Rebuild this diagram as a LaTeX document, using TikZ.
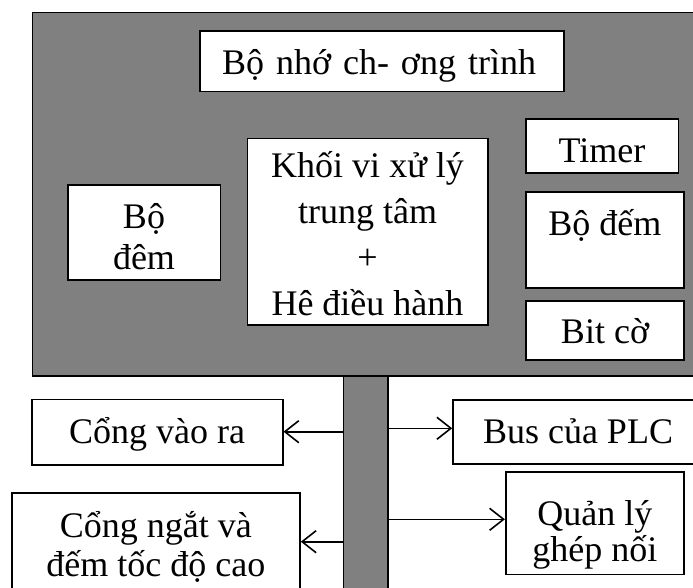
\documentclass[tikz,border=0pt]{standalone}
\usepackage{fontspec}
\setmainfont{Liberation Serif}
\usetikzlibrary{arrows.meta}
\definecolor{panelgrey}{RGB}{128,128,128}
\begin{document}
\begin{tikzpicture}[x=1pt,y=-1pt,
  box/.style={draw=black, line width=1.6pt, fill=white, inner sep=0pt, align=center,
    font=\fontsize{36}{42}\selectfont},
  arr/.style={line width=1.6pt, -{Straight Barb[length=14pt,width=22pt,line width=1.6pt]}}]
\useasboundingbox (0,0) rectangle (693,588);
\clip (0,0) rectangle (693,588);
% main grey panel
\node[draw=black, line width=1.6pt, fill=panelgrey, minimum width=680, minimum height=363.3, inner sep=0pt, anchor=north west] (panel) at (31.7,11.7) {};
% vertical bus bar
\node[draw=black, line width=1.6pt, fill=panelgrey, minimum width=44.4, minimum height=240, inner sep=0pt, anchor=north] (bar) at (365.5,375) {};
% boxes inside panel
\node[box, minimum width=364, minimum height=60.7, text width=320, inner xsep=22, align=left, text height=27.4pt, text depth=0pt] (mem) at (382,61.3) {Bộ nhớ ch- ơng trình};
\node[box, minimum width=240.4, minimum height=182, font=\fontsize{36}{46}\selectfont, text height=176.6pt, text depth=10pt] (cpu) at (367.5,231.7) {Khối vi xử lý\\trung tâm\\+\\Hê điều hành};
\node[box, minimum width=152.6, minimum height=95.3, font=\fontsize{36}{40}\selectfont, text height=80pt, text depth=7.2pt] (dem) at (144,232.6) {Bộ\\đêm};
\node[box, minimum width=152.6, minimum height=54, text height=34pt, text depth=0pt] (timer) at (602,146) {Timer};
\node[box, minimum width=158.3, minimum height=95.4, text height=27pt, text depth=37pt] (bodem) at (604.85,240) {Bộ đếm};
\node[box, minimum width=158, minimum height=59, text height=25.6pt, text depth=0pt] (bitco) at (605,330.5) {Bit cờ};
% boxes below
\node[box, minimum width=251, minimum height=65.7, text height=22.3pt, text depth=0pt] (io) at (157.2,432.15) {Cổng vào ra};
\node[box, minimum width=250, minimum height=64, text height=22.6pt, text depth=0pt] (bus) at (578,432) {Bus của PLC};
\node[box, minimum width=178.3, minimum height=102.6, font=\fontsize{36}{36}\selectfont, text height=85pt, text depth=7.6pt] (qly) at (594.85,523) {Quản lý\\ghép nối};
\node[box, minimum width=288.3, minimum height=117, font=\fontsize{36}{39}\selectfont, text height=60pt, text depth=9pt] (ngat) at (155.85,551.2) {Cổng ngắt và\\đếm tốc độ cao};
% connectors
\draw[arr] (bar.west |- 0,431.7) -- (io.east |- 0,431.7);
\draw[arr] (bar.east |- 0,428.3) -- (bus.west |- 0,428.3);
\draw[arr] (bar.east |- 0,519.3) -- (qly.west |- 0,519.3);
\draw[arr] (bar.west |- 0,541.7) -- (ngat.east |- 0,541.7);
\end{tikzpicture}
\end{document}
